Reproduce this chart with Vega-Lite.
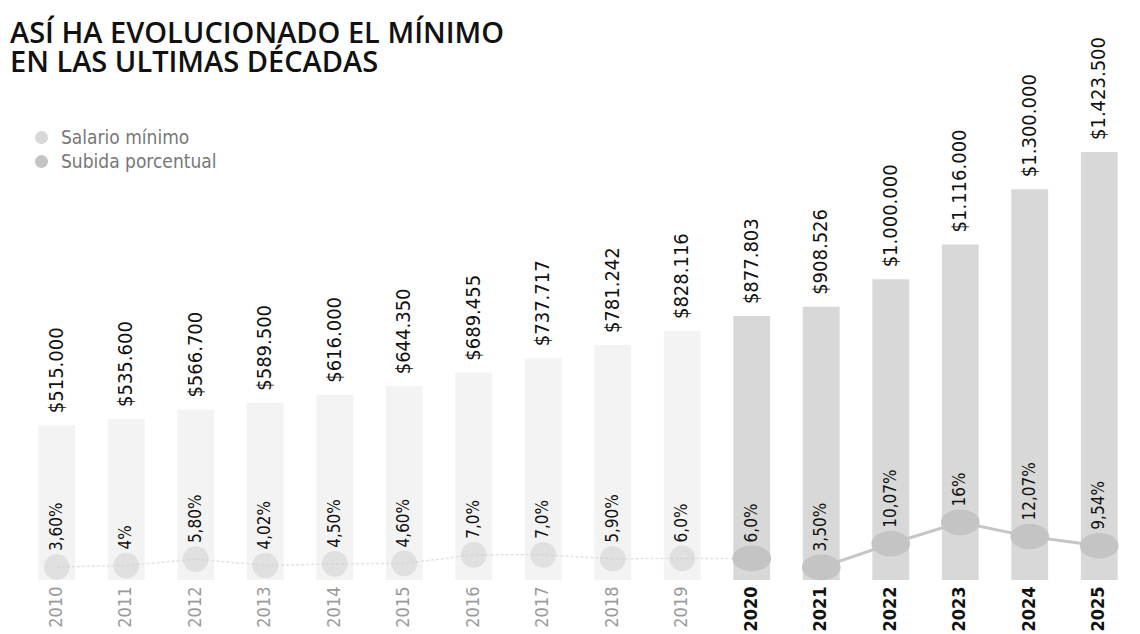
{
  "$schema": "https://vega.github.io/schema/vega-lite/v6.json",
  "width": 1112,
  "height": 500,
  "autosize": "none",
  "padding": {"left": 22, "top": 80, "right": 6, "bottom": 54},
  "background": "white",
  "config": {"view": {"stroke": null}},
  "title": {
    "text": ["ASÍ HA EVOLUCIONADO EL MÍNIMO", "EN LAS ULTIMAS DÉCADAS"],
    "anchor": "start",
    "frame": "group",
    "font": "Open Sans",
    "fontSize": 29,
    "fontWeight": 600,
    "color": "#111111",
    "lineHeight": 29,
    "dx": -12,
    "dy": 49,
    "offset": 8
  },
  "data": {
    "values": [
      {"anio": 2010, "salario": 515000, "subida": 3.6, "etiqueta_salario": "$515.000", "etiqueta_subida": "3,60%"},
      {"anio": 2011, "salario": 535600, "subida": 4.0, "etiqueta_salario": "$535.600", "etiqueta_subida": "4%"},
      {"anio": 2012, "salario": 566700, "subida": 5.8, "etiqueta_salario": "$566.700", "etiqueta_subida": "5,80%"},
      {"anio": 2013, "salario": 589500, "subida": 4.02, "etiqueta_salario": "$589.500", "etiqueta_subida": "4,02%"},
      {"anio": 2014, "salario": 616000, "subida": 4.5, "etiqueta_salario": "$616.000", "etiqueta_subida": "4,50%"},
      {"anio": 2015, "salario": 644350, "subida": 4.6, "etiqueta_salario": "$644.350", "etiqueta_subida": "4,60%"},
      {"anio": 2016, "salario": 689455, "subida": 7.0, "etiqueta_salario": "$689.455", "etiqueta_subida": "7,0%"},
      {"anio": 2017, "salario": 737717, "subida": 7.0, "etiqueta_salario": "$737.717", "etiqueta_subida": "7,0%"},
      {"anio": 2018, "salario": 781242, "subida": 5.9, "etiqueta_salario": "$781.242", "etiqueta_subida": "5,90%"},
      {"anio": 2019, "salario": 828116, "subida": 6.0, "etiqueta_salario": "$828.116", "etiqueta_subida": "6,0%"},
      {"anio": 2020, "salario": 877803, "subida": 6.0, "etiqueta_salario": "$877.803", "etiqueta_subida": "6,0%"},
      {"anio": 2021, "salario": 908526, "subida": 3.5, "etiqueta_salario": "$908.526", "etiqueta_subida": "3,50%"},
      {"anio": 2022, "salario": 1000000, "subida": 10.07, "etiqueta_salario": "$1.000.000", "etiqueta_subida": "10,07%"},
      {"anio": 2023, "salario": 1116000, "subida": 16, "etiqueta_salario": "$1.116.000", "etiqueta_subida": "16%"},
      {"anio": 2024, "salario": 1300000, "subida": 12.07, "etiqueta_salario": "$1.300.000", "etiqueta_subida": "12,07%"},
      {"anio": 2025, "salario": 1423500, "subida": 9.54, "etiqueta_salario": "$1.423.500", "etiqueta_subida": "9,54%"}
    ]
  },
  "encoding": {
    "x": {
      "field": "anio",
      "type": "ordinal",
      "scale": {"paddingInner": 0.47, "paddingOuter": 0.235},
      "axis": {
        "title": null,
        "ticks": false,
        "domain": false,
        "labelAngle": 270,
        "labelPadding": 6,
        "labelFont": "DejaVu Sans Condensed, sans-serif",
        "labelFontSize": 18,
        "labelColor": {"expr": "datum.value >= 2020 ? '#111111' : '#9a9a9a'"},
        "labelFontWeight": {"expr": "datum.value >= 2020 ? 'bold' : 'normal'"}
      }
    }
  },
  "layer": [
    {
      "layer": [
        {
          "mark": {"type": "bar"},
          "encoding": {
            "y": {"field": "salario", "type": "quantitative", "scale": {"domain": [0, 1663000]}, "axis": null},
            "color": {
              "datum": "Salario mínimo",
              "scale": {"domain": ["Salario mínimo", "Subida porcentual"], "range": ["#d8d8d8", "#c4c4c4"]},
              "legend": {
                "orient": "none",
                "legendX": 10,
                "legendY": 48,
                "title": null,
                "symbolType": "circle",
                "symbolSize": 170,
                "symbolStrokeWidth": 0,
                "labelFontSize": 19,
                "labelFont": "DejaVu Sans Condensed, sans-serif",
                "labelColor": "#777777",
                "labelOffset": 10,
                "rowPadding": 4
              }
            },
            "opacity": {"condition": {"test": "datum.anio >= 2020", "value": 1}, "value": 0.3}
          }
        },
        {
          "mark": {"type": "text", "angle": 270, "align": "left", "baseline": "middle", "dx": 12, "font": "DejaVu Sans Condensed, sans-serif", "fontSize": 20, "color": "#111111"},
          "encoding": {
            "y": {"field": "salario", "type": "quantitative", "scale": {"domain": [0, 1663000]}, "axis": null},
            "text": {"field": "etiqueta_salario"}
          }
        }
      ]
    },
    {
      "layer": [
        {
          "transform": [{"filter": "datum.anio <= 2020"}],
          "mark": {"type": "line", "color": "#e2e2e2", "strokeWidth": 1.5, "strokeDash": [3, 2]},
          "encoding": {
            "y": {"field": "subida", "type": "quantitative", "scale": {"domain": [0, 138.9]}, "axis": null}
          }
        },
        {
          "transform": [{"filter": "datum.anio >= 2021"}],
          "mark": {"type": "line", "color": "#c6c6c6", "strokeWidth": 3},
          "encoding": {
            "y": {"field": "subida", "type": "quantitative", "scale": {"domain": [0, 138.9]}, "axis": null}
          }
        },
        {
          "mark": {"type": "point", "filled": true, "strokeWidth": 0},
          "encoding": {
            "y": {"field": "subida", "type": "quantitative", "scale": {"domain": [0, 138.9]}, "axis": null},
            "color": {"datum": "Subida porcentual"},
            "opacity": {"condition": {"test": "datum.anio >= 2020", "value": 1}, "value": 0.4},
            "shape": {"condition": {"test": "datum.anio >= 2020", "value": "M-1,0A1,0.66 0 1,1 1,0A1,0.66 0 1,1 -1,0Z"}, "value": "circle"},
            "size": {"condition": {"test": "datum.anio >= 2020", "value": 1500}, "value": 660}
          }
        },
        {
          "mark": {"type": "text", "angle": 270, "align": "left", "baseline": "middle", "dx": 16, "font": "DejaVu Sans Condensed, sans-serif", "fontSize": 17, "color": "#111111"},
          "encoding": {
            "y": {"field": "subida", "type": "quantitative", "scale": {"domain": [0, 138.9]}, "axis": null},
            "text": {"field": "etiqueta_subida"}
          }
        }
      ]
    }
  ],
  "resolve": {"scale": {"y": "independent"}}
}
